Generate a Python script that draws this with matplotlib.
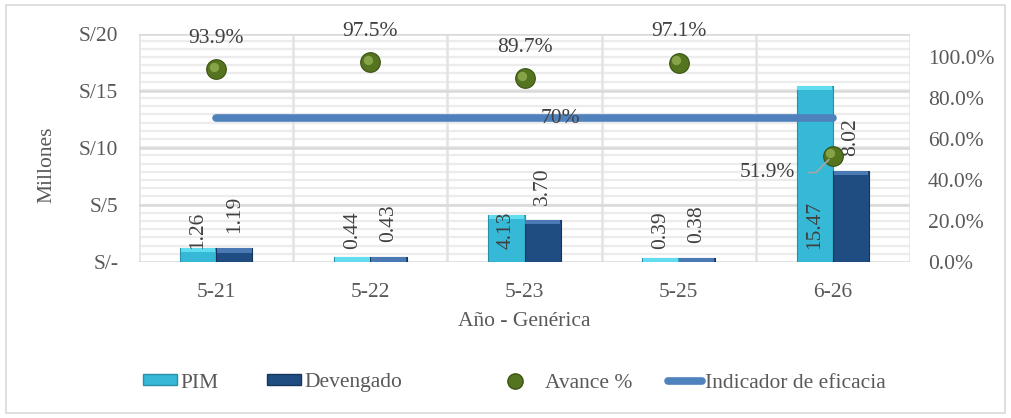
import matplotlib
matplotlib.use("Agg")
import matplotlib.pyplot as plt
import numpy as np
from matplotlib.patches import Patch, Rectangle
from matplotlib.lines import Line2D
from matplotlib.transforms import blended_transform_factory, offset_copy

# ---- data ----
categories = ["5-21", "5-22", "5-23", "5-25", "6-26"]
pim = [1.26, 0.44, 4.13, 0.39, 15.47]
devengado = [1.19, 0.43, 3.70, 0.38, 8.02]
avance = [0.939, 0.975, 0.897, 0.971, 0.519]
indicador = [0.70, 0.70, 0.70, 0.70, 0.70]
left_ticks = [0, 5, 10, 15, 20]
left_ticklabels = ["S/-", "S/5", "S/10", "S/15", "S/20"]
right_ticks = [0.0, 0.2, 0.4, 0.6, 0.8, 1.0]

plt.rcParams['font.family'] = ['Liberation Serif', 'DejaVu Serif']
FS = 15.5
GREY = "#595959"

fig = plt.figure(figsize=(10.11, 4.18), dpi=100)
fig.patches.append(Rectangle((6/1011, 5/418), 999/1011, 408/418, transform=fig.transFigure,
                             fill=False, edgecolor="#d9d9d9", lw=1.2))

ax = fig.add_axes([139/1011, (418-262)/418, 771/1011, 228/418])
ax2 = ax.twinx()

x = np.arange(len(categories))
w = 0.235

ax.set_xlim(-0.5, len(categories) - 0.5)
ax.set_ylim(0, 20)
ax2.set_ylim(0, 1.112)

# gridlines
for b in np.arange(-0.5, len(categories), 1.0):
    ax.axvline(b, color="#e3e3e3", lw=1.8, zorder=0.5)
tr = blended_transform_factory(ax.transAxes, ax2.transData)
for v in np.arange(0.04, 1.112, 0.04):
    ax.plot([0, 1], [v, v], transform=tr, color="#ececec", lw=1.6, zorder=0.3)
for v in left_ticks:
    ax.axhline(v, color="#d9d9d9", lw=1.8, zorder=0.6)

for s in list(ax.spines.values()) + list(ax2.spines.values()):
    s.set_visible(False)

# bars
pim_c, pim_top, pim_edge = "#35b9d6", "#62dcef", "#2a8fa8"
dev_c, dev_top, dev_edge = "#1f4d82", "#4a79b3", "#15355b"
bevel = 0.4
ax.bar(x - w/2, pim, width=w, color=pim_c, edgecolor=pim_edge, lw=0.8, zorder=2)
ax.bar(x + w/2, devengado, width=w, color=dev_c, edgecolor=dev_edge, lw=0.8, zorder=2)
ax.bar(x - w/2, [min(v, bevel) for v in pim], width=w*0.96,
       bottom=[v - min(v, bevel) for v in pim], color=pim_top, lw=0, zorder=2.1)
ax.bar(x + w/2, [min(v, bevel) for v in devengado], width=w*0.96,
       bottom=[v - min(v, bevel) for v in devengado], color=dev_top, lw=0, zorder=2.1)

for xi, v in zip(x, pim):
    ax.annotate(f"{v:.2f}", (xi - w/2, 0), xytext=(0, 13), textcoords="offset pixels",
                rotation=90, ha="center", va="bottom", fontsize=FS, color="#404040", zorder=5)
for xi, v in zip(x, devengado):
    ax.annotate(f"{v:.2f}", (xi + w/2, v), xytext=(0, 15), textcoords="offset pixels",
                rotation=90, ha="center", va="bottom", fontsize=FS, color="#404040", zorder=5)

# secondary series
ax2.plot(x, indicador, color="#4f81bd", lw=5.5, solid_capstyle="round", zorder=3)
ax2.text(2.23, indicador[2], "70%", ha="center", va="center", fontsize=FS, color="#404040", zorder=4)
ax2.scatter(x, avance, s=200, color="#55741f", edgecolor="#3a5314", lw=0.8, zorder=5)
hl = offset_copy(ax2.transData, fig=fig, x=-2.5, y=2.5, units="dots")
ax2.scatter(x, avance, s=45, color="#93b152", lw=0, zorder=6, transform=hl, alpha=0.8)

for xi, v in zip(x, avance):
    if v < 0.6:
        ax2.annotate(f"{v*100:.1f}%", (xi, v), xytext=(-38, -17), textcoords="offset pixels",
                     ha="right", va="center", fontsize=FS, color="#404040", zorder=6,
                     arrowprops=dict(arrowstyle="-", color="#a6a6a6", lw=1.2,
                                     shrinkA=8, shrinkB=4,
                                     connectionstyle="angle,angleA=0,angleB=45,rad=0"))
    else:
        ax2.annotate(f"{v*100:.1f}%", (xi, v), xytext=(0, 31), textcoords="offset pixels",
                     ha="center", va="center", fontsize=FS, color="#404040", zorder=6)

# ticks
ax.set_xticks(x)
ax.set_xticklabels(categories)
ax.set_yticks(left_ticks)
ax.set_yticklabels(left_ticklabels)
ax2.set_yticks(right_ticks)
ax2.set_yticklabels([f"{t*100:.1f}%" for t in right_ticks])
ax.tick_params(axis="x", length=0, pad=15, labelsize=FS, labelcolor=GREY)
ax.tick_params(axis="y", length=0, pad=15, labelsize=FS, labelcolor=GREY)
ax2.tick_params(axis="y", length=0, pad=13, labelsize=FS, labelcolor=GREY)
ax.grid(False)
ax2.grid(False)

fig.text(47/1011, 1 - 165/418, "Millones", rotation=90, ha="center", va="center",
         fontsize=FS, color=GREY)
fig.text(524/1011, 1 - 322/418, "Año - Genérica", ha="center", va="center",
         fontsize=FS, color=GREY)

# legend (separate entries)
ly = 1 - 383/418
entries = [
    (143, Patch(facecolor=pim_c, edgecolor=pim_edge), "PIM", 1.6, 0.15),
    (267, Patch(facecolor=dev_c, edgecolor=dev_edge), "Devengado", 1.6, 0.12),
    (498, Line2D([], [], marker="o", ls="", markersize=11, markerfacecolor="#55741f",
                 markeredgecolor="#3a5314"), "Avance %", 1.6, 0.6),
    (668, Line2D([], [], color="#4f81bd", lw=5.5, solid_capstyle="round"),
     "Indicador de eficacia", 1.6, 0.1),
]
for px, h, lab, hlen, pad in entries:
    leg = fig.legend([h], [lab], loc="center left", bbox_to_anchor=(px/1011, ly),
                     frameon=False, fontsize=FS, handlelength=hlen, handleheight=0.4,
                     handletextpad=pad, borderpad=0, borderaxespad=0)
    for t in leg.get_texts():
        t.set_color(GREY)

fig.savefig("out.png", dpi=100)
